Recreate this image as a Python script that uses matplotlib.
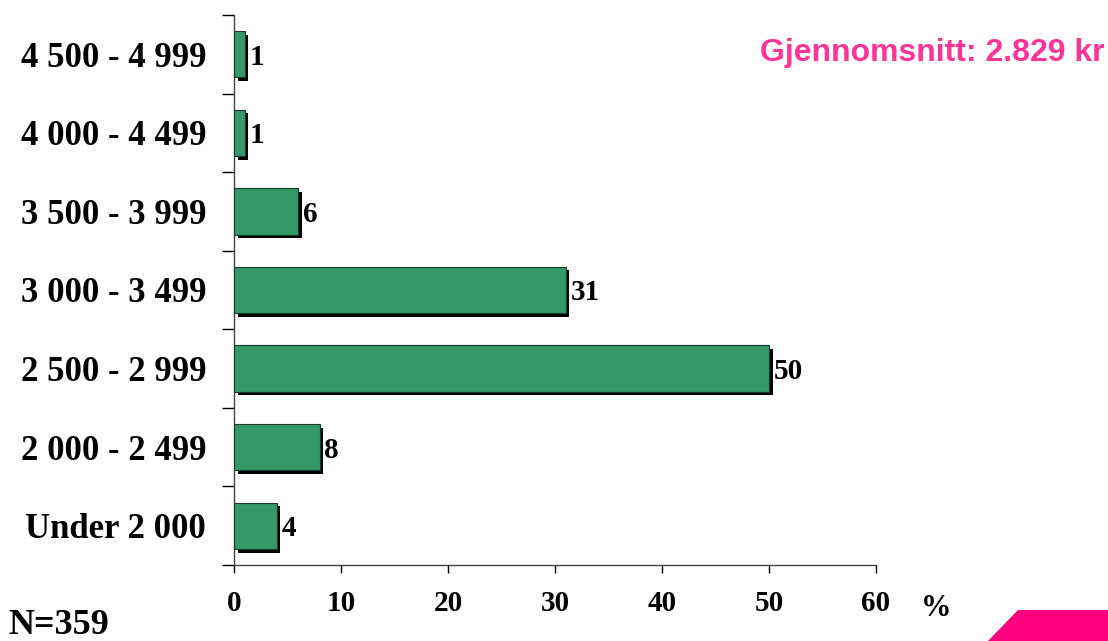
import numpy as np
import matplotlib
matplotlib.use("Agg")
import matplotlib.pyplot as plt
import matplotlib.patheffects as pe
from matplotlib.patches import Polygon

# data
categories = ["Under 2 000", "2 000 - 2 499", "2 500 - 2 999", "3 000 - 3 499",
              "3 500 - 3 999", "4 000 - 4 499", "4 500 - 4 999"]
values = [4, 8, 50, 31, 6, 1, 1]
xticks = [0, 10, 20, 30, 40, 50, 60]

serif = "Liberation Serif"
green = "#339966"
pink = "#FF3399"

fig = plt.figure(figsize=(11.08, 6.41), dpi=100)
W, H = 1108, 641
ax = fig.add_axes([234 / W, 1 - 565 / H, (876 - 234) / W, (565 - 15) / H])

y = np.arange(len(categories))
bars = ax.barh(y, values, height=0.59, color=green, edgecolor="#1a3a2a",
               linewidth=0.8, zorder=3)
for b in bars:
    b.set_path_effects([pe.SimplePatchShadow(offset=(2.6, -2.6), shadow_rgbFace="black",
                                             alpha=1.0), pe.Normal()])

for yi, v in zip(y, values):
    ax.text(v + 0.45, yi, str(v), fontfamily=serif, fontweight="bold",
            fontsize=21, ha="left", va="center_baseline")

ax.set_xlim(0, 60)
ax.set_ylim(-0.5, 6.5)
ax.set_xticks(xticks)
ax.set_xticklabels([str(t) for t in xticks], fontfamily=serif, fontweight="bold", fontsize=21)

# category labels sit between boundary ticks
ax.set_yticks(np.arange(-0.5, 7, 1.0))
ax.set_yticklabels([])
ax.set_yticks(y, minor=True)
ax.set_yticklabels(categories, minor=True, fontfamily=serif, fontweight="bold", fontsize=25)
ax.tick_params(axis="y", which="major", length=8.6, width=1.0, direction="out")
ax.tick_params(axis="y", which="minor", length=0, pad=20)
ax.tick_params(axis="x", length=5.8, width=1.0, direction="out", pad=12)

for s in ["top", "right"]:
    ax.spines[s].set_visible(False)
for s in ["left", "bottom"]:
    ax.spines[s].set_color("#444444")
    ax.spines[s].set_linewidth(1.0)

fig.text(936 / W, 1 - 608 / H, "%", fontfamily=serif, fontweight="bold", fontsize=22,
         ha="center", va="center")
fig.text(8 / W, 1 - 626 / H, "N=359", fontfamily=serif, fontweight="bold", fontsize=26,
         ha="left", va="center")
fig.text(1104 / W, 1 - 53 / H, "Gjennomsnitt: 2.829 kr", fontfamily="Liberation Sans",
         fontweight="bold", fontsize=23, color=pink, ha="right", va="center")
fig.text(2 / W, 1 - 5 / H, "Pr. år", fontfamily=serif, fontweight="bold", fontsize=23,
         ha="left", va="bottom")

shape = Polygon([(988 / W, 0), (1018 / W, 1 - 610 / H), (1108 / W, 1 - 610 / H), (1108 / W, 0)],
                closed=True, transform=fig.transFigure, facecolor="#FF0080", edgecolor="none")
fig.patches.append(shape)

fig.savefig("out.png", dpi=100)
